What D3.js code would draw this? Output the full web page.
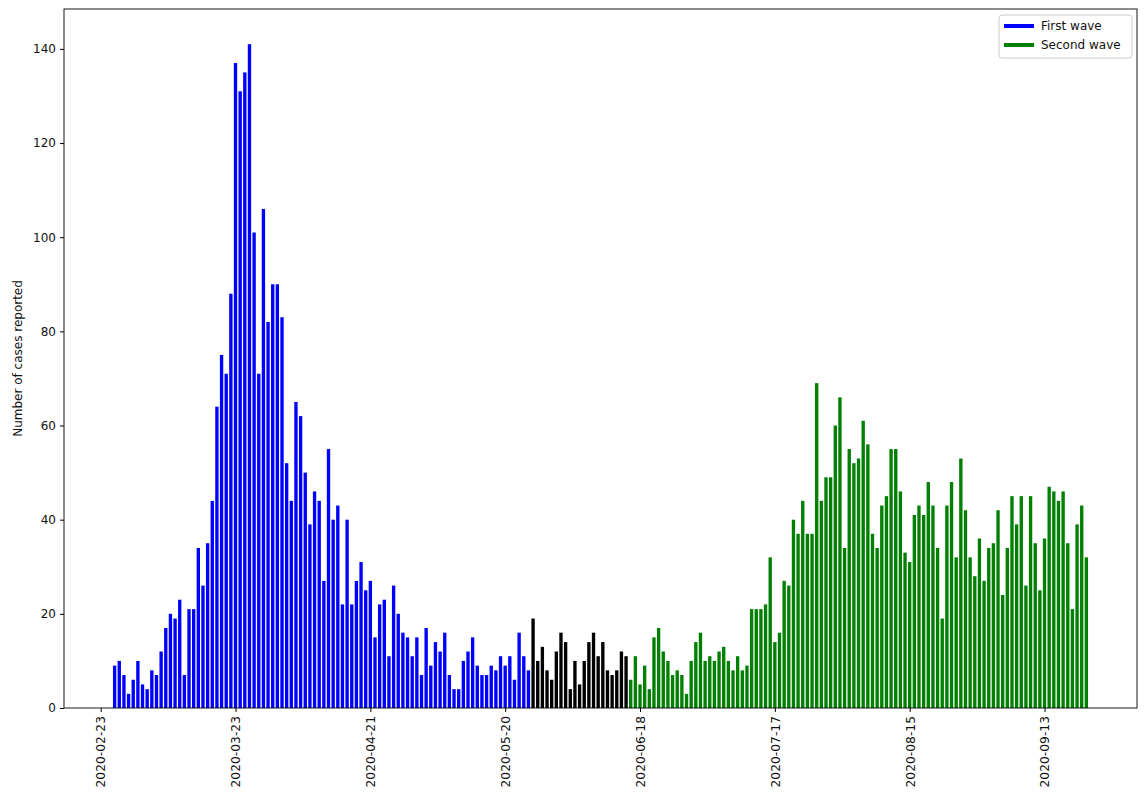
<!DOCTYPE html>
<html>
<head>
<meta charset="utf-8">
<script src="https://cdn.jsdelivr.net/npm/d3@7"></script>
<style>
  html, body { margin: 0; padding: 0; background: #fff; }
  svg { display: block; font-family: "DejaVu Sans", sans-serif; }
</style>
</head>
<body>
<svg id="chart" width="1144" height="794"></svg>
<script>
// Daily reported cases, one value per consecutive day from each start date
const firstWaveStart = "2020-02-26";
const firstWave = [
  9, 10, 7, 3, 6, 10, 5, 4, 8, 7, 12, 17, 20, 19, 23, 7, 21, 21, 34, 26,
  35, 44, 64, 75, 71, 88, 137, 131, 135, 141,
  101, 71, 106, 82, 90, 90, 83, 52, 44, 65, 62, 50, 39, 46, 44, 27, 55, 40,
  43, 22, 40, 22, 27, 31, 25, 27, 15, 22, 23, 11, 26, 20, 16, 15, 11, 15, 7,
  17, 9, 14, 12, 16, 7, 4, 4, 10, 12, 15, 9, 7, 7, 9, 8, 11, 9, 11, 6, 16, 11, 8
];

const betweenStart = "2020-05-26";
const betweenWaves = [19, 10, 13, 8, 6, 12, 16, 14, 4, 10, 5, 10, 14, 16, 11, 14, 8, 7, 8, 12, 11];

const secondWaveStart = "2020-06-16";
const secondWave = [
  6, 11, 5, 9, 4, 15, 17, 12, 10, 7, 8, 7, 3, 10, 14,
  16, 10, 11, 10, 12, 13, 10, 8, 11, 8, 9, 21, 21, 21, 22, 32, 14, 16, 27, 26,
  40, 37, 44, 37, 37,
  69, 44, 49, 49, 60, 66, 34, 55, 52, 53, 61, 56, 37, 34, 43, 45, 55, 55, 46,
  33, 31, 41, 43, 41, 48, 43, 34, 19, 43, 48, 32,
  53, 42, 32, 28, 36, 27, 34, 35, 42, 24, 34, 45, 39, 45, 26, 45, 35, 25, 36,
  47, 46, 44, 46, 35, 21, 39, 43, 32
];

const xTickLabels = ["2020-02-23", "2020-03-23", "2020-04-21", "2020-05-20",
                     "2020-06-18", "2020-07-17", "2020-08-15", "2020-09-13"];
const yTickValues = [0, 20, 40, 60, 80, 100, 120, 140];
const legendLabels = ["First wave", "Second wave"];

const parse = d3.utcParse("%Y-%m-%d");
const fmt = d3.utcFormat("%Y-%m-%d");

function toRows(start, values, color) {
  const s = parse(start);
  return values.map((v, i) => ({ date: d3.utcDay.offset(s, i), value: v, color }));
}

const rows = [
  ...toRows(firstWaveStart, firstWave, "#0000ff"),
  ...toRows(betweenStart, betweenWaves, "#000000"),
  ...toRows(secondWaveStart, secondWave, "#008000")
];

const svg = d3.select("#chart");
const plot = { left: 64, right: 1137, top: 9, bottom: 708 };

// Date domain padded like a bar plot: half-bar on each end plus 5% margins
const barDays = 0.8;
const dayMs = 864e5;
const dMin = d3.min(rows, d => d.date).getTime() - barDays / 2 * dayMs;
const dMax = d3.max(rows, d => d.date).getTime() + barDays / 2 * dayMs;
const pad = (dMax - dMin) * 0.05;

const x = d3.scaleUtc()
  .domain([new Date(dMin - pad), new Date(dMax + pad)])
  .range([plot.left, plot.right]);

const y = d3.scaleLinear()
  .domain([0, d3.max(rows, d => d.value) * 1.053])
  .range([plot.bottom, plot.top]);

const pxPerDay = x(new Date(dayMs)) - x(new Date(0));
const barW = pxPerDay * 0.72;

// Bars
svg.append("g")
  .selectAll("rect")
  .data(rows)
  .join("rect")
  .attr("x", d => x(d.date) - barW / 2)
  .attr("y", d => y(d.value))
  .attr("width", barW)
  .attr("height", d => y(0) - y(d.value))
  .attr("fill", d => d.color);

// Frame
svg.append("rect")
  .attr("x", plot.left)
  .attr("y", plot.top)
  .attr("width", plot.right - plot.left)
  .attr("height", plot.bottom - plot.top)
  .attr("fill", "none")
  .attr("stroke", "#000")
  .attr("stroke-width", 0.9);

// Y axis
const yAxis = svg.append("g")
  .attr("transform", `translate(${plot.left},0)`)
  .call(d3.axisLeft(y).tickValues(yTickValues).tickSize(4).tickPadding(4));
yAxis.select(".domain").remove();
yAxis.selectAll("text").attr("font-size", 12).attr("fill", "#111")
  .attr("font-family", "DejaVu Sans, sans-serif");

// X axis
const xAxis = svg.append("g")
  .attr("transform", `translate(0,${plot.bottom})`)
  .call(d3.axisBottom(x).tickValues(xTickLabels.map(parse)).tickFormat(fmt).tickSize(4));
xAxis.select(".domain").remove();
xAxis.selectAll("text")
  .attr("font-size", 12.3)
  .attr("fill", "#111")
  .attr("font-family", "DejaVu Sans, sans-serif")
  .attr("transform", "rotate(-90)")
  .attr("text-anchor", "end")
  .attr("x", -8)
  .attr("y", 0)
  .attr("dy", "0.35em");

// Y axis title
svg.append("text")
  .attr("transform", `translate(18,${(plot.top + plot.bottom) / 2}) rotate(-90)`)
  .attr("text-anchor", "middle")
  .attr("dy", "0.35em")
  .attr("font-size", 12)
  .attr("fill", "#111")
  .text("Number of cases reported");

// Legend
const legend = svg.append("g").attr("transform", "translate(999,15)");
legend.append("rect")
  .attr("width", 133).attr("height", 43)
  .attr("rx", 3)
  .attr("fill", "#fff")
  .attr("stroke", "#ccc");
const legendColors = ["#0000ff", "#008000"];
legendLabels.forEach((t, i) => {
  const gy = 11 + i * 19;
  legend.append("line")
    .attr("x1", 5).attr("x2", 35)
    .attr("y1", gy).attr("y2", gy)
    .attr("stroke", legendColors[i])
    .attr("stroke-width", 4);
  legend.append("text")
    .attr("x", 42).attr("y", gy)
    .attr("dy", "0.35em")
    .attr("font-size", 12)
    .attr("fill", "#111")
    .text(t);
});
</script>
</body>
</html>
